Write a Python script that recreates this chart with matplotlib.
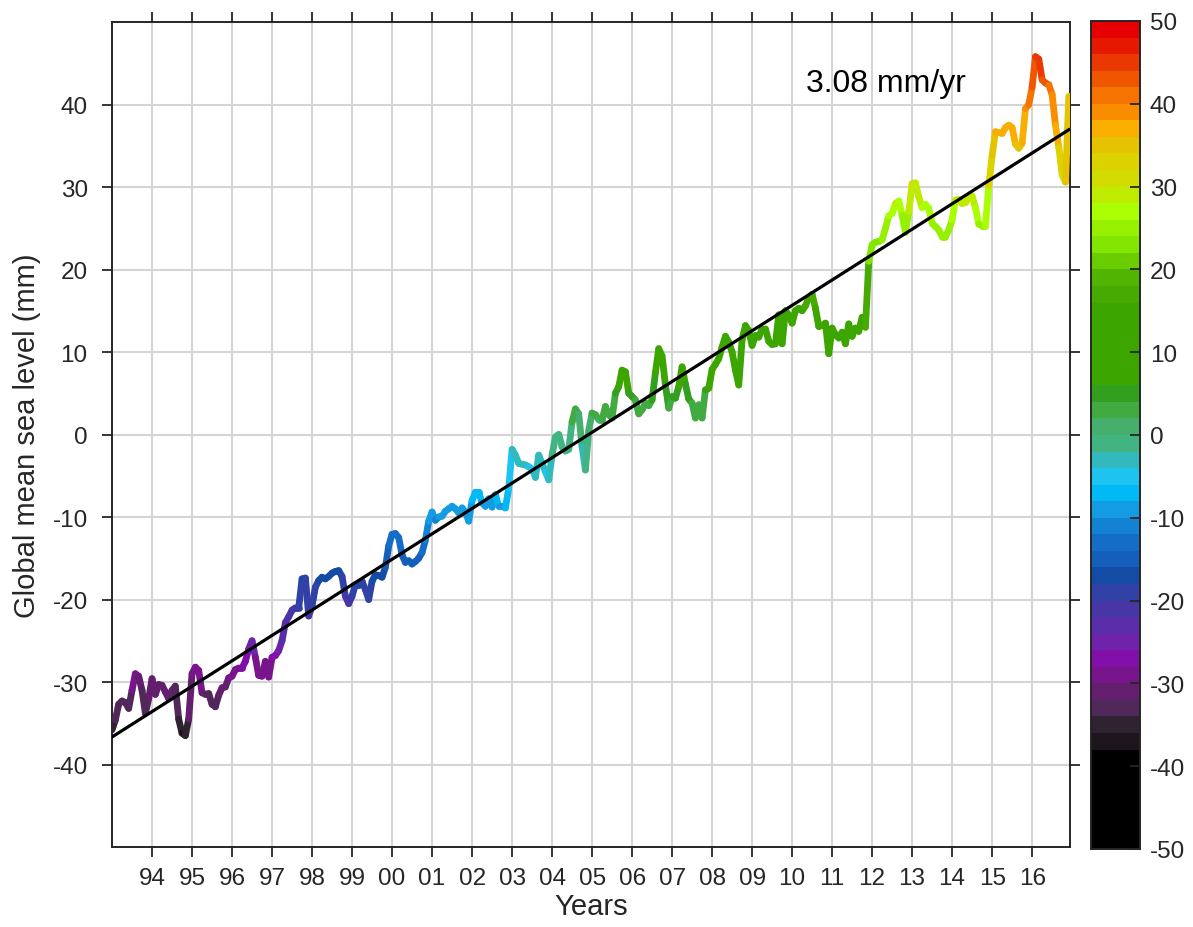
import matplotlib
matplotlib.use("Agg")
import matplotlib.pyplot as plt
import numpy as np
from matplotlib.collections import LineCollection
from matplotlib.colors import ListedColormap, Normalize
from matplotlib.cm import ScalarMappable

plt.rcParams['font.family'] = ['Liberation Sans', 'DejaVu Sans']
plt.rcParams['axes.unicode_minus'] = False

# -----------------------------
# Data: monthly global mean sea level (mm), Jan 1993 onwards
# -----------------------------
start_year = 1993
sea_level = [
    -35.8, -34.6, -32.7, -32.3, -32.5, -33.2, -31.0, -29.0, -29.3, -31.0, -33.8, -32.0,  # 1993
    -29.6, -31.5, -30.3, -30.4, -31.2, -32.0, -31.0, -30.5, -34.5, -36.2, -36.5, -34.5,  # 1994
    -29.0, -28.2, -28.6, -31.3, -31.5, -31.4, -32.7, -33.0, -31.6, -30.7, -30.6, -29.5,  # 1995
    -29.3, -28.5, -28.3, -28.3, -27.5, -26.0, -25.0, -27.0, -29.2, -29.3, -27.5, -29.4,  # 1996
    -27.0, -26.8, -26.2, -25.0, -22.8, -22.1, -21.3, -21.0, -21.0, -17.5, -17.4, -22.0,  # 1997
    -20.8, -18.5, -17.7, -17.3, -17.5, -17.2, -16.8, -16.6, -16.5, -17.2, -19.6, -20.5,  # 1998
    -19.6, -18.2, -18.2, -17.8, -18.8, -20.0, -17.8, -17.0, -17.1, -17.3, -16.1, -13.5,  # 1999
    -12.1, -12.0, -12.5, -14.6, -15.5, -15.3, -15.7, -15.4, -15.0, -14.3, -12.8, -10.5,  # 2000
    -9.4, -10.4, -10.0, -9.9, -9.3, -9.0, -8.7, -9.0, -9.5, -8.9, -9.4, -10.5,          # 2001
    -8.0, -7.0, -7.0, -8.3, -8.7, -7.8, -8.8, -7.3, -8.7, -8.7, -8.9, -6.5,             # 2002
    -1.8, -2.5, -3.5, -3.6, -3.7, -3.9, -4.2, -5.2, -2.5, -3.5, -4.5, -5.5,             # 2003
    -2.5, -0.3, 0.0, -1.5, -2.0, -1.8, 1.5, 3.1, 2.5, -1.5, -4.3, 0.5,                  # 2004
    2.6, 2.4, 1.8, 1.8, 3.4, 2.4, 2.0, 5.0, 5.8, 7.8, 7.6, 5.0,                         # 2005
    4.6, 4.2, 2.5, 3.0, 3.8, 3.5, 4.2, 7.5, 10.4, 9.5, 6.0, 3.2,                        # 2006
    4.6, 4.4, 5.8, 8.2, 6.1, 4.3, 3.8, 2.0, 3.6, 2.0, 5.4, 5.6,                         # 2007
    7.9, 8.5, 9.2, 10.6, 11.9, 11.2, 10.0, 7.8, 6.0, 11.5, 13.2, 12.6,                  # 2008
    10.8, 12.0, 11.8, 12.8, 12.8, 11.3, 10.9, 11.0, 14.5, 11.0, 15.0, 14.5,             # 2009
    13.5, 15.0, 15.3, 15.0, 15.6, 16.6, 17.0, 15.3, 13.1, 13.2, 13.5, 9.8,              # 2010
    12.9, 12.1, 11.7, 12.4, 11.0, 13.4, 11.9, 12.9, 12.5, 14.2, 13.0, 21.0,             # 2011
    23.0, 23.3, 23.4, 23.6, 25.0, 26.5, 26.8, 28.0, 28.3, 26.6, 24.5, 27.0,             # 2012
    30.4, 30.5, 28.8, 27.5, 27.9, 27.4, 25.6, 25.2, 24.8, 24.0, 24.0, 24.8,             # 2013
    26.0, 28.4, 28.5, 28.0, 28.1, 28.7, 28.9, 27.5, 25.5, 25.3, 25.3, 30.2,             # 2014
    33.8, 36.7, 36.6, 36.5, 37.2, 37.5, 37.2, 35.2, 34.7, 35.3, 39.5, 40.0,             # 2015
    42.1, 45.8, 45.5, 43.0, 42.6, 42.4, 41.2, 37.5, 34.8, 31.5, 30.6, 41.0,             # 2016
]
year_ticks = list(range(1994, 2017))
y_ticks = [-40, -30, -20, -10, 0, 10, 20, 30, 40]
cbar_ticks = [-50, -40, -30, -20, -10, 0, 10, 20, 30, 40, 50]
rate_text = "3.08 mm/yr"

# colour bands of 2 mm from -50 to 50
band_colors = (
    ["#000000"] * 6 +
    ["#1c161c", "#2f2330", "#50285a", "#641e6e", "#78148c", "#820faa",
     "#6e23aa", "#5a2daa", "#4637a5", "#3241a5", "#144ba5", "#145fb9",
     "#146ec8", "#1482d2", "#149be1", "#00b9f5", "#1ec3f0", "#32b9be",
     "#41b482", "#46af6e", "#41aa41", "#32a01e"] +
    ["#3ca500"] * 5 +
    ["#46aa00", "#50b400", "#69cd00", "#82e600", "#96f000", "#aaff00",
     "#beeb00", "#d2dc00", "#dcd200", "#e6c300", "#faaf00", "#fa8c00",
     "#f57300", "#f05500", "#eb3700", "#e61900", "#e60000"]
)
cmap = ListedColormap(band_colors)
norm = Normalize(-50, 50)

sl = np.array(sea_level)
t = start_year + np.arange(len(sl)) / 12.0

# -----------------------------
# Plot
# -----------------------------
fig = plt.figure(figsize=(11.93, 9.28), dpi=100)
ax = fig.add_axes([0.0939, 0.0862, 0.8030, 0.8890])

edge = '#262626'

pts = np.column_stack([t, sl]).reshape(-1, 1, 2)
segs = np.concatenate([pts[:-1], pts[1:]], axis=1)
lc = LineCollection(segs, cmap=cmap, norm=norm, linewidths=4.9,
                    capstyle='round', joinstyle='round', zorder=3)
lc.set_array(0.5 * (sl[:-1] + sl[1:]))
ax.add_collection(lc)

# linear trend
coef = np.polyfit(t, sl, 1)
ax.plot(t[[0, -1]], np.polyval(coef, t[[0, -1]]), color='black', lw=2.3, zorder=4)

ax.text(0.7244, 0.926, rate_text, transform=ax.transAxes, fontsize=23,
        va='center', ha='left', color='black')

ax.set_xlim(t[0], t[-1] + 0.03)
ax.set_ylim(-50, 50)
ax.set_xticks(year_ticks)
ax.set_xticklabels([f"{y % 100:02d}" for y in year_ticks])
ax.set_yticks(y_ticks)
ax.grid(True, color='#d4d4d4', lw=1.5)
ax.set_axisbelow(True)

ax.tick_params(direction='out', length=7.5, width=1.3, colors=edge,
               top=True, right=True, labelsize=17.5)
ax.tick_params(axis='x', pad=7)
ax.tick_params(axis='y', pad=10)
for s in ax.spines.values():
    s.set_color(edge)
    s.set_linewidth(1.4)

ax.set_xlabel("Years", fontsize=21, color=edge, labelpad=2)
ax.set_ylabel("Global mean sea level (mm)", fontsize=21, color=edge, labelpad=8)

# -----------------------------
# Colorbar
# -----------------------------
cax = fig.add_axes([0.9145, 0.0841, 0.0411, 0.8922])
sm = ScalarMappable(norm=norm, cmap=cmap)
cb = fig.colorbar(sm, cax=cax, ticks=cbar_ticks)
cb.outline.set_edgecolor(edge)
cb.outline.set_linewidth(1.4)
cax.tick_params(direction='in', length=7.5, width=1.3, colors=edge,
                labelsize=17.5, pad=7)

fig.savefig("out.png", dpi=100)
